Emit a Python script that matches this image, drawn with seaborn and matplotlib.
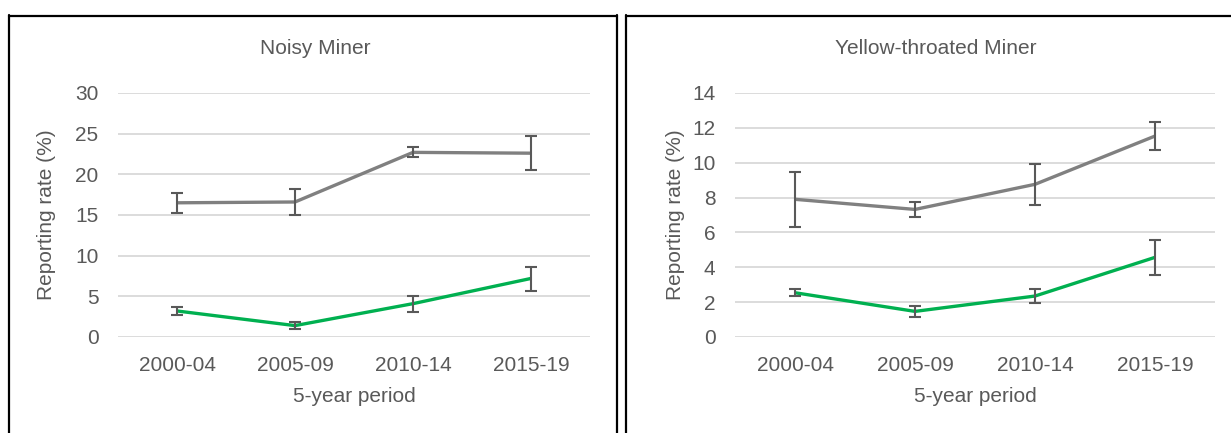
import matplotlib
matplotlib.use("Agg")
import matplotlib.pyplot as plt
from matplotlib.lines import Line2D
import seaborn as sns
import pandas as pd

# ---- data ----
periods = ["2000-04", "2005-09", "2010-14", "2015-19"]

noisy_grey = [16.5, 16.6, 22.7, 22.6]
noisy_grey_lo = [15.3, 15.0, 22.1, 20.5]
noisy_grey_hi = [17.7, 18.2, 23.4, 24.7]
noisy_green = [3.2, 1.4, 4.1, 7.2]
noisy_green_lo = [2.7, 1.0, 3.1, 5.7]
noisy_green_hi = [3.7, 1.8, 5.0, 8.6]

yellow_grey = [7.9, 7.32, 8.76, 11.53]
yellow_grey_lo = [6.33, 6.88, 7.55, 10.71]
yellow_grey_hi = [9.45, 7.72, 9.9, 12.31]
yellow_green = [2.54, 1.47, 2.35, 4.57]
yellow_green_lo = [2.35, 1.15, 1.95, 3.58]
yellow_green_hi = [2.73, 1.78, 2.75, 5.56]

titles = ["Noisy Miner", "Yellow-throated Miner"]
y_maxes = [30, 14]
y_steps = [5, 2]
xlabel = "5-year period"
ylabel = "Reporting rate (%)"

GREY = "#808080"
GREEN = "#00B050"
ERR = "#595959"
GRID = "#D9D9D9"
TEXT = "#595959"

sns.set_style("white")
plt.rcParams["font.family"] = ["Liberation Sans", "DejaVu Sans"]

W, H = 1231, 433
fig = plt.figure(figsize=(W / 100, H / 100), dpi=100)

def px_axes(x0, x1, ytop, ybot):
    return fig.add_axes([x0 / W, (H - ybot) / H, (x1 - x0) / W, (ybot - ytop) / H])

axes = [px_axes(118, 590, 93, 337), px_axes(735, 1215, 93, 337)]
title_x = [315, 936]
ylabel_pads = [14, 5]

panels = [
    (noisy_grey, noisy_grey_lo, noisy_grey_hi, noisy_green, noisy_green_lo, noisy_green_hi),
    (yellow_grey, yellow_grey_lo, yellow_grey_hi, yellow_green, yellow_green_lo, yellow_green_hi),
]

for ax, title, tx, lp, ymax, ystep, (g, glo, ghi, gr, grlo, grhi) in zip(
        axes, titles, title_x, ylabel_pads, y_maxes, y_steps, panels):
    df = pd.DataFrame({"period": periods, "grey": g, "green": gr})
    xs = list(range(len(periods)))
    sns.lineplot(data=df, x="period", y="grey", ax=ax, color=GREY, lw=2.4,
                 sort=False, zorder=3, solid_capstyle="butt")
    sns.lineplot(data=df, x="period", y="green", ax=ax, color=GREEN, lw=2.4,
                 sort=False, zorder=3, solid_capstyle="butt")
    for vals, lo, hi in ((g, glo, ghi), (gr, grlo, grhi)):
        yerr = [[v - l for v, l in zip(vals, lo)], [h - v for v, h in zip(vals, hi)]]
        ax.errorbar(xs, vals, yerr=yerr, fmt="none", ecolor=ERR, elinewidth=1.5,
                    capsize=4, capthick=1.5, zorder=4)
    ax.set_xlim(-0.5, len(periods) - 0.5)
    ax.set_ylim(0, ymax)
    ax.set_yticks(range(0, ymax + 1, ystep))
    ax.yaxis.grid(True, color=GRID, lw=1.3)
    ax.set_axisbelow(True)
    for s in ax.spines.values():
        s.set_visible(False)
    ax.tick_params(axis="both", length=0, labelsize=15, colors=TEXT)
    ax.tick_params(axis="x", pad=14)
    ax.tick_params(axis="y", pad=14)
    ax.set_xlabel(xlabel, fontsize=15, color=TEXT, labelpad=8)
    ax.set_ylabel(ylabel, fontsize=15, color=TEXT, labelpad=lp)
    fig.text(tx / W, (H - 48.5) / H, title, fontsize=15, color=TEXT,
             ha="center", va="center")

# panel borders (pixel coordinates)
def hline(x0, x1, y):
    fig.add_artist(Line2D([x0 / W, x1 / W], [(H - y) / H, (H - y) / H],
                          transform=fig.transFigure, color="black", lw=1.6))

def vline(x, y0, y1):
    fig.add_artist(Line2D([x / W, x / W], [(H - y0) / H, (H - y1) / H],
                          transform=fig.transFigure, color="black", lw=1.6))

hline(8.5, 617, 15.5)
vline(9, 15, H + 5)
vline(616.5, 15, H + 5)
hline(625.5, W + 5, 15.5)
vline(626, 15, H + 5)

fig.savefig("out.png", dpi=100)
